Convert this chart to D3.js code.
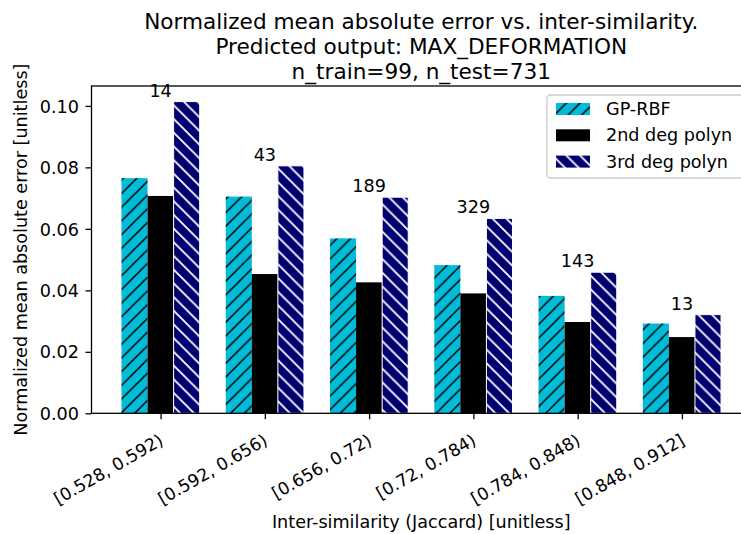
<!DOCTYPE html>
<html>
<head>
<meta charset="utf-8">
<script src="https://cdn.jsdelivr.net/npm/d3@7"></script>
<style>
  html, body { margin: 0; padding: 0; background: #fff; }
  svg { display: block; font-family: "DejaVu Sans", sans-serif; }
</style>
</head>
<body>
<div id="chart"></div>
<script>
// ---- data ----
const categories = ["[0.528, 0.592)", "[0.592, 0.656)", "[0.656, 0.72)", "[0.72, 0.784)", "[0.784, 0.848)", "[0.848, 0.912]"];
const gpRbf = [0.0765, 0.0705, 0.0569, 0.0482, 0.0382, 0.0292];
const poly2 = [0.0707, 0.0453, 0.0426, 0.0390, 0.0297, 0.0248];
const poly3 = [0.1014, 0.0805, 0.0703, 0.0634, 0.0459, 0.0321];
const counts = [14, 43, 189, 329, 143, 13];
const seriesNames = ["GP-RBF", "2nd deg polyn", "3rd deg polyn"];
const yTicks = [0, 0.02, 0.04, 0.06, 0.08, 0.10];
const titleLines = ["Normalized mean absolute error vs. inter-similarity.", "Predicted output: MAX_DEFORMATION", "n_train=99, n_test=731"];

const W = 741, H = 534;
const mLeft = 91.5, mRight = 751, mTop = 86, mBottom = 413.3;
const barW = 0.25;
const fs = 17.6;

const svg = d3.select("#chart").append("svg").attr("width", W).attr("height", H);

const defs = svg.append("defs");
const hs = 13.7;
function hatch(id, bg, fg, dir, sw) {
  const p = defs.append("pattern").attr("id", id).attr("patternUnits", "userSpaceOnUse")
    .attr("width", hs).attr("height", hs);
  p.append("rect").attr("width", hs).attr("height", hs).attr("fill", bg);
  let d;
  if (dir === "/") {
    d = `M0,${hs} L${hs},0 M${-hs/2},${hs/2} L${hs/2},${-hs/2} M${hs/2},${hs*1.5} L${hs*1.5},${hs/2}`;
  } else {
    d = `M0,0 L${hs},${hs} M${-hs/2},${hs/2} L${hs/2},${hs*1.5} M${hs/2},${-hs/2} L${hs*1.5},${hs/2}`;
  }
  p.append("path").attr("d", d).attr("stroke", fg).attr("stroke-width", sw).attr("fill", "none");
}
hatch("hCyan", "#00bcd9", "#000", "/", 1.5);
hatch("hNavy", "#000070", "#fff", "\\", 1.8);

const x = d3.scaleLinear().domain([-0.6625, categories.length - 1 + 0.6625]).range([mLeft, mRight]);
const maxVal = d3.max([...gpRbf, ...poly2, ...poly3]);
const y = d3.scaleLinear().domain([0, maxVal * 1.05]).range([mBottom, mTop]);

const series = [
  { name: seriesNames[0], values: gpRbf, off: -0.25, fill: "url(#hCyan)", stroke: "none" },
  { name: seriesNames[1], values: poly2, off: 0, fill: "#000", stroke: "none" },
  { name: seriesNames[2], values: poly3, off: 0.25, fill: "url(#hNavy)", stroke: "#fff" }
];

const plot = svg.append("g");
series.forEach(s => {
  plot.selectAll(null).data(s.values).enter().append("rect")
    .attr("x", (d, i) => x(i + s.off - barW / 2))
    .attr("width", (d, i) => x(i + s.off + barW / 2) - x(i + s.off - barW / 2))
    .attr("y", d => y(d))
    .attr("height", d => y(0) - y(d))
    .attr("fill", s.fill)
    .attr("stroke", s.stroke)
    .attr("stroke-width", s.stroke === "none" ? 0 : 1);
});

// count annotations
plot.selectAll(null).data(counts).enter().append("text")
  .attr("x", (d, i) => x(i))
  .attr("y", (d, i) => y(Math.max(gpRbf[i], poly2[i], poly3[i])) - 5)
  .attr("text-anchor", "middle")
  .attr("font-size", fs)
  .attr("fill", "#000")
  .text(d => d);

// axes
const yAxis = d3.axisLeft(y).tickValues(yTicks).tickFormat(d3.format(".2f")).tickSize(6).tickPadding(6.5);
const gy = svg.append("g").attr("transform", `translate(${mLeft},0)`).call(yAxis);
const xAxis = d3.axisBottom(x).tickValues(d3.range(categories.length)).tickFormat(i => categories[i]).tickSize(6).tickPadding(5);
const gx = svg.append("g").attr("transform", `translate(0,${mBottom})`).call(xAxis);
[gx, gy].forEach(g => {
  g.select(".domain").remove();
  g.selectAll(".tick line").attr("stroke", "#000").attr("stroke-width", 1.3);
  g.selectAll(".tick text").attr("font-size", fs).attr("fill", "#000").attr("font-family", "DejaVu Sans");
});
gx.selectAll(".tick text")
  .attr("font-size", 17.2)
  .attr("text-anchor", "end")
  .attr("dy", null)
  .attr("y", null)
  .attr("transform", "translate(3.5,30.5) rotate(-30)");
gy.selectAll(".tick text").attr("dy", "0.35em");

// spines
const sp = svg.append("g").attr("stroke", "#000").attr("stroke-width", 1.3).attr("fill", "none");
sp.append("rect").attr("x", mLeft).attr("y", mTop).attr("width", mRight - mLeft).attr("height", mBottom - mTop);

// titles
const tg = svg.append("g").attr("font-size", 21.6).attr("text-anchor", "middle").attr("fill", "#000");
titleLines.forEach((t, i) => {
  tg.append("text").attr("x", (mLeft + mRight) / 2).attr("y", 28.5 + i * 25).text(t);
});

// axis labels
svg.append("text").attr("x", (mLeft + mRight) / 2).attr("y", 528).attr("text-anchor", "middle")
  .attr("font-size", fs).text("Inter-similarity (Jaccard) [unitless]");
svg.append("text").attr("transform", `translate(26.5,${(mTop + mBottom) / 2}) rotate(-90)`)
  .attr("text-anchor", "middle").attr("font-size", fs).text("Normalized mean absolute error [unitless]");

// legend
const lg = svg.append("g").attr("transform", "translate(547,95)");
lg.append("rect").attr("x", 0).attr("y", 0).attr("width", 196).attr("height", 83).attr("rx", 3)
  .attr("fill", "#fff").attr("fill-opacity", 0.8).attr("stroke", "#cccccc").attr("stroke-width", 1.3);
series.forEach((s, i) => {
  const cy = 14 + i * 26.3;
  lg.append("rect").attr("x", 9).attr("y", cy - 6).attr("width", 34).attr("height", 12)
    .attr("fill", s.fill).attr("stroke", "none");
  lg.append("text").attr("x", 59).attr("y", cy).attr("dy", "0.35em").attr("font-size", fs).text(s.name);
});
</script>
</body>
</html>
